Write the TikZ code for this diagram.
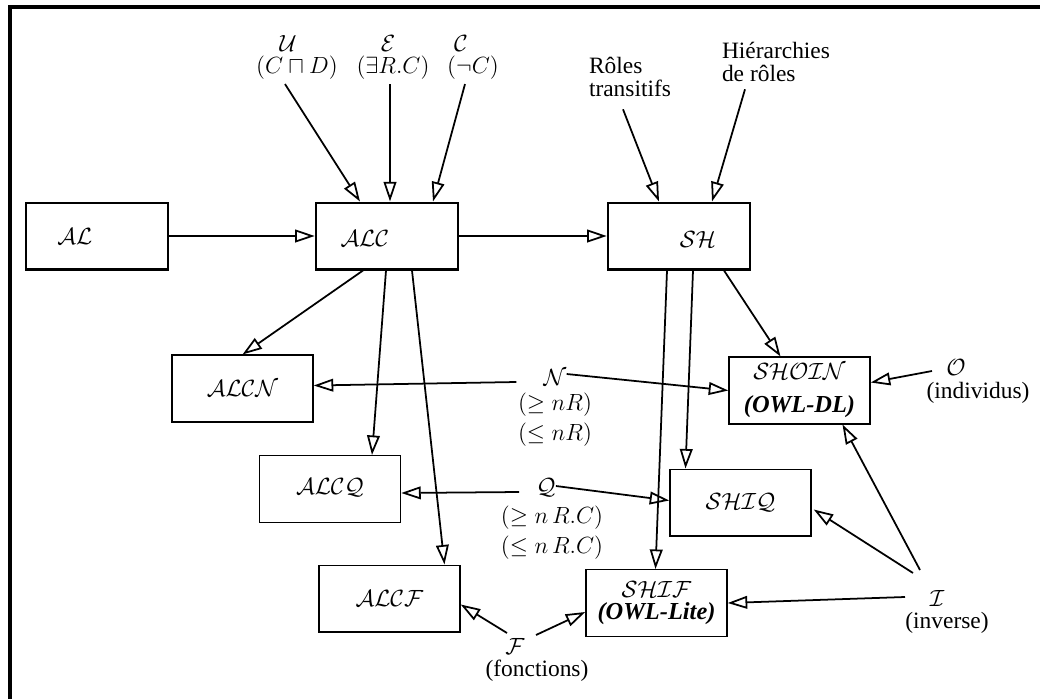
\documentclass[tikz,border=0pt]{standalone}
\usepackage{fontspec}
\setmainfont{Liberation Serif}
\usetikzlibrary{arrows.meta,calc}

\begin{document}
\begin{tikzpicture}[x=0.018cm,y=-0.018cm,
  bigbox/.style={draw,line width=1.2pt,minimum width=2.56cm,minimum height=1.2cm},
  smallbox/.style={draw,line width=0.7pt,minimum width=2.54cm,minimum height=1.2cm,align=center,font=\fontsize{12.5}{12.5}\selectfont},
  lbl/.style={inner sep=1pt,align=center,font=\fontsize{12}{12}\selectfont},
  link/.style={line width=0.9pt,-{Triangle[open,length=10pt,width=6.5pt]}}]
\useasboundingbox (0,0) rectangle (1040,699);
\draw[line width=2.2pt] (10,699) |- (1040,7);

% top row
\node[bigbox,label={[xshift=-0.4cm,font=\large]center:$\mathcal{AL}$}] (al) at (97,236) {};
\node[bigbox,label={[xshift=-0.4cm,yshift=-0.04cm,font=\large]center:$\mathcal{ALC}$}] (alc) at (387,236) {};
\node[bigbox,label={[xshift=0.34cm,yshift=-0.06cm,font=\large]center:$\mathcal{SH}$}] (sh) at (679,236) {};

% lower boxes
\node[smallbox] (alcn) at (242.5,388.5) {$\mathcal{ALCN}$};
\node[smallbox] (alcq) at (330,489) {\raisebox{3pt}{$\mathcal{ALCQ}$}};
\node[smallbox] (alcf) at (389.5,598.5) {$\mathcal{ALCF}$};
\node[smallbox] (shoin) at (799.5,390.5) {$\mathcal{SHOIN}$\\[4pt]\textbf{\textit{(OWL-DL)}}};
\node[smallbox] (shiq) at (740.5,502.5) {$\mathcal{SHIQ}$};
\node[smallbox] (shif) at (656.5,603) {$\mathcal{SHIF}$\\[-1pt]\textbf{\textit{(OWL-Lite)}}};

% constructors
\node[lbl] (u) at (288,43) {$\mathcal{U}$};
\node[lbl] (ud) at (297,68) {$(C\sqcap D)$};
\node[lbl] (e) at (388,43) {$\mathcal{E}$};
\node[lbl] (ed) at (393,68) {$(\exists R.C)$};
\node[lbl] (c) at (461,43) {$\mathcal{C}$};
\node[lbl] (cd) at (473,68) {$(\neg C)$};
\node[lbl,align=left] (rt) at (630,77) {Rôles\\transitifs};
\node[lbl,align=left] (hr) at (776,62) {Hiérarchies\\de rôles};
\node[lbl] (n) at (555,377) {$\mathcal{N}$};
\node[lbl] (nd) at (555,420) {$(\geq nR)$\\[3.3pt]$(\leq nR)$};
\node[lbl] (q) at (546,488) {$\mathcal{Q}$};
\node[lbl] (qd) at (552,533) {$(\geq n\,R.C)$\\[3.3pt]$(\leq n\,R.C)$};
\node[lbl] (o) at (956,367) {$\mathcal{O}$};
\node[lbl] (od) at (978,393) {(individus)};
\node[lbl] (i) at (937,598) {$\mathcal{I}$};
\node[lbl] (id) at (947,623) {(inverse)};
\node[lbl] (f) at (515,646) {$\mathcal{F}$};
\node[lbl] (fd) at (537,671) {(fonctions)};

% links
\draw[link] (al.east) -- (alc.west);
\draw[link] (alc.east) -- (sh.west);
\draw[link] ($(ud.south)+(-12,2)$) -- ($(alc.north)+(-27,0)$);
\draw[link] ($(ed.south)+(-3,2)$) -- ($(alc.north)+(3,0)$);
\draw[link] ($(cd.south)+(-8,2)$) -- ($(alc.north)+(46,0)$);
\draw[link] ($(rt.south)+(-7,10)$) -- ($(sh.north)+(-20,0)$);
\draw[link] ($(hr.south)+(-31,5)$) -- ($(sh.north)+(33,0)$);
\draw[link] ($(alc.south)+(-24,0)$) -- (alcn.north);
\draw[link] ($(alc.south)+(-1,0)$) -- ($(alcq.north)+(42,0)$);
\draw[link] ($(alc.south)+(25,0)$) -- ($(alcf.north)+(55,0)$);
\draw[link] ($(sh.south)+(-12,0)$) -- ($(shif.north)+(-1,0)$);
\draw[link] ($(sh.south)+(14,0)$) -- ($(shiq.north)+(-55,0)$);
\draw[link] ($(sh.south)+(45,0)$) -- ($(shoin.north)+(-19,0)$);
\draw[link] ($(n.west)+(-25,5)$) -- ($(alcn.east)+(0,-3)$);
\draw[link] ($(n.east)+(-2,-3)$) -- (shoin.west);
\draw[link] ($(q.west)+(-15,4)$) -- ($(alcq.east)+(0,4)$);
\draw[link] ($(q.east)+(-2,-2)$) -- ($(shiq.west)+(0,-2)$);
\draw[link] ($(o.west)+(-12,4)$) -- ($(shoin.east)+(0,-8)$);
\draw[link] ($(i)+(-17,-28)$) -- ($(shoin.south)+(43,0)$);
\draw[link] ($(i)+(-24,-25)$) -- ($(shiq.east)+(2,7)$);
\draw[link] ($(i)+(-32,-1)$) -- (shif.east);
\draw[link] ($(f)+(-8,-13)$) -- ($(alcf.east)+(0,6)$);
\draw[link] ($(f)+(21,-11)$) -- ($(shif.west)+(0,9)$);
\end{tikzpicture}
\end{document}
